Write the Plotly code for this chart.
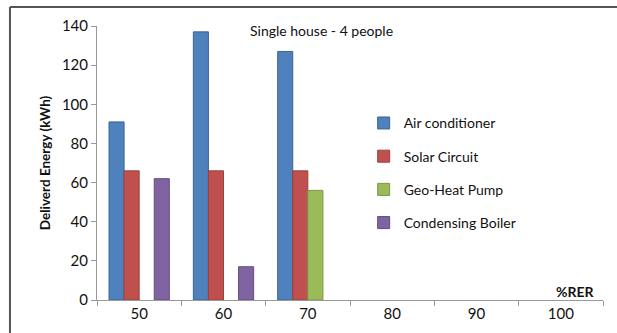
import plotly.graph_objects as go

# Renewable energy ratio categories
rer_levels = ["50", "60", "70", "80", "90", "100"]

# Delivered energy (kWh) per system; None where the system has no value
air_conditioner = [91, 137, 127, None, None, None]
solar_circuit = [66, 66, 66, None, None, None]
geo_heat_pump = [None, None, 56, None, None, None]
condensing_boiler = [62, 17, None, None, None, None]

series = [
    ("Air conditioner", air_conditioner, "#4F81BD", "#3A6596"),
    ("Solar Circuit", solar_circuit, "#C0504D", "#98403D"),
    ("Geo-Heat Pump", geo_heat_pump, "#9BBB59", "#7B9646"),
    ("Condensing Boiler", condensing_boiler, "#8064A2", "#624C80"),
]

FONT = "Lato, Carlito, Liberation Sans, sans-serif"

fig = go.Figure()
for i, (name, vals, fill, edge) in enumerate(series):
    fig.add_trace(go.Bar(
        name=name, x=rer_levels, y=vals,
        marker=dict(color=fill, line=dict(color=edge, width=1)),
        legendgroup=f"g{i}",
    ))

fig.update_layout(
    width=617, height=333,
    margin=dict(l=97, r=14, t=26, b=33),
    paper_bgcolor="white", plot_bgcolor="white",
    barmode="group", bargap=0.285, bargroupgap=0,
    font=dict(family=FONT, size=14, color="#111"),
    showlegend=True,
    legend=dict(
        x=0.527, y=0.703, xanchor="left", yanchor="top",
        font=dict(size=14, color="#111"),
        tracegroupgap=12, traceorder="grouped",
        bgcolor="rgba(0,0,0,0)",
    ),
    xaxis=dict(
        type="category", tickson="boundaries",
        ticks="outside", ticklen=5, tickcolor="#999",
        showline=True, linecolor="#999", linewidth=1,
        showgrid=False, tickfont=dict(size=15, color="#111"),
    ),
    yaxis=dict(
        range=[0, 140], dtick=20,
        ticks="outside", ticklen=5, tickcolor="#999",
        showline=True, linecolor="#999", linewidth=1,
        showgrid=False, zeroline=False,
        tickfont=dict(size=15, color="#111"),
        title=dict(text="<b>Deliverd Energy (kWh)</b>",
                   font=dict(size=13.5, color="#111"), standoff=8),
    ),
    annotations=[
        dict(text="Single house - 4 people", xref="paper", yref="paper",
             x=0.443, y=0.985, showarrow=False, xanchor="center", yanchor="middle",
             font=dict(size=14, color="#111")),
        dict(text="<b>%RER</b>", xref="paper", yref="paper",
             x=0.988, y=0.03, showarrow=False, xanchor="right", yanchor="middle",
             font=dict(size=14, color="#111")),
    ],
    shapes=[
        dict(type="line", xref="paper", yref="paper",
             x0=-0.172, x1=1.03, y0=1.069, y1=1.069,
             line=dict(color="#555", width=2)),
        dict(type="line", xref="paper", yref="paper",
             x0=-0.172, x1=-0.172, y0=1.069, y1=-0.13,
             line=dict(color="#555", width=2)),
    ],
)

fig.write_html("out.html")
